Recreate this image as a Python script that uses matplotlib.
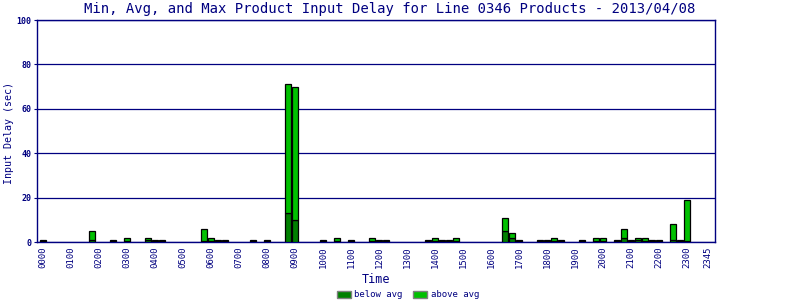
import numpy as np
import matplotlib
matplotlib.use('Agg')
import matplotlib.pyplot as plt
from matplotlib.patches import Patch

# 15-minute slots for the day, labelled HHMM
slot_labels = ['%02d%02d' % (h, m) for h in range(24) for m in (0, 15, 30, 45)]

# times with data, total delay (max) and the below-avg part
times = ['0000', '0145', '0230', '0300', '0345', '0400', '0415', '0545', '0600', '0615',
         '0630', '0730', '0800', '0845', '0900', '1000', '1030', '1100', '1145', '1200',
         '1215', '1345', '1400', '1415', '1430', '1445', '1630', '1645', '1700', '1745',
         '1800', '1815', '1830', '1915', '1945', '2000', '2030', '2045', '2100', '2115',
         '2130', '2145', '2200', '2230', '2245', '2300']
totals = [1, 5, 1, 2, 2, 1, 1, 6, 2, 1,
          1, 1, 1, 71, 70, 1, 2, 1, 2, 1,
          1, 1, 2, 1, 1, 2, 11, 4, 1, 1,
          1, 2, 1, 1, 2, 2, 1, 6, 1, 2,
          2, 1, 1, 8, 1, 19]
below = [0.4, 0.8, 0.4, 0.4, 1, 0.4, 0.4, 0.4, 0.4, 0.4,
         0.4, 0.4, 0.4, 13, 10, 0.4, 0.4, 0.4, 0.4, 0.4,
         0.4, 0.4, 0.4, 0.4, 0.4, 0.4, 5, 1.7, 0.4, 0.4,
         0.4, 0.4, 0.4, 0.4, 0.4, 0.4, 0.4, 1.7, 0.4, 1,
         0.4, 0.4, 0.4, 0.8, 0.4, 0.4]

tick_labels = [slot_labels[i] for i in range(0, 96, 4)] + ['2345']
tick_pos = list(range(0, 96, 4)) + [95]

NAVY = '#000080'
DARK = '#008000'
LIGHT = '#00C000'
plt.rcParams['font.family'] = ['DejaVu Sans Mono']

x = np.array([slot_labels.index(t) for t in times])
below = np.array(below)
above = np.array(totals) - below

fig = plt.figure(figsize=(8, 3), dpi=100)
ax = fig.add_axes([0.046, 0.193, 0.848, 0.74])

ax.bar(x, below, width=0.8, color=DARK, edgecolor='black', linewidth=0.9, zorder=3)
ax.bar(x, above, bottom=below, width=0.8, color=LIGHT, edgecolor='black', linewidth=0.9, zorder=3)

ax.set_xlim(-0.86, 96)
ax.set_ylim(0, 100)
ax.set_yticks([0, 20, 40, 60, 80, 100])
ax.set_yticklabels(['0', '20', '40', '60', '80', '100'], fontsize=6, color=NAVY, fontweight='bold')
ax.set_xticks(tick_pos)
ax.set_xticklabels(tick_labels, rotation=90, fontsize=6.5, color=NAVY)
ax.tick_params(axis='x', length=0, pad=3)
ax.tick_params(axis='y', length=2, color=NAVY, pad=2)
ax.grid(axis='y', color=NAVY, linewidth=0.9, zorder=0)
for s in ax.spines.values():
    s.set_color(NAVY)
    s.set_linewidth(1)

fig.text(0.487, 0.97, 'Min, Avg, and Max Product Input Delay for Line 0346 Products - 2013/04/08',
         fontsize=10, color=NAVY, ha='center', va='center')
fig.text(0.011, 0.557, 'Input Delay (sec)', fontsize=7.2, color=NAVY,
         rotation=90, ha='center', va='center')
ax.set_xlabel('Time', fontsize=8.5, color=NAVY, labelpad=4)

handles = [Patch(facecolor=DARK, edgecolor='grey', linewidth=1, label='below avg'),
           Patch(facecolor=LIGHT, edgecolor='grey', linewidth=1, label='above avg')]
leg = fig.legend(handles=handles, loc='lower center', bbox_to_anchor=(0.51, -0.025), ncol=2,
                 frameon=False, fontsize=6.5, handlelength=1.5, handleheight=0.9,
                 columnspacing=1.2, handletextpad=0.4)
for t in leg.get_texts():
    t.set_color(NAVY)

fig.savefig('out.png', dpi=100)
